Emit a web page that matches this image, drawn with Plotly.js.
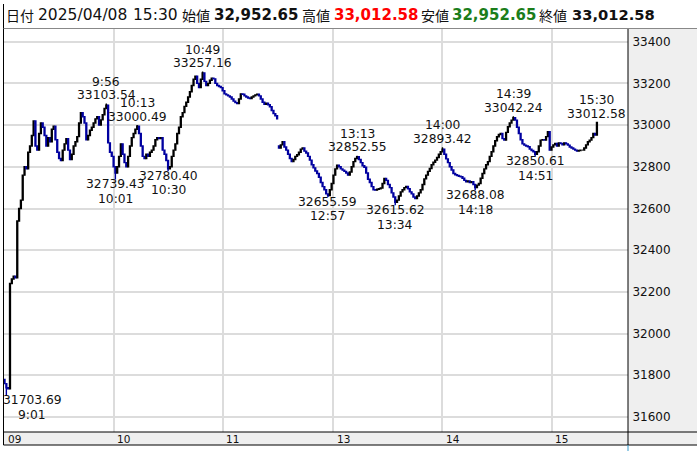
<!DOCTYPE html>
<html><head><meta charset="utf-8">
<script src="https://cdn.plot.ly/plotly-3.0.1.min.js"></script>
<style>html,body{margin:0;padding:0;background:#fff;}#chart{width:697px;height:451px;}</style>
</head><body><div id="chart"></div>
<script>
// ---- data ----
const firstOpen = 31780;
const afternoonOpen = 32900;
const morningClose = [
31760,31740,31735,32240,32262,32275,32268,32540,32600,32640,
32760,32800,32790,32870,32900,32950,33020,32900,32880,32960,
33010,32990,32950,32900,32940,32920,32980,32995,32930,32870,
32840,32830,32880,32910,32935,32880,32835,32860,32900,32920,
32945,33010,33060,33040,33010,32930,32950,32975,32990,33010,
33030,33040,33000,33025,33050,33080,33095,32915,32870,32850,
32800,32770,32800,32850,32910,32860,32820,32800,32850,32900,
32940,32960,32980,32995,32960,32900,32850,32840,32860,32850,
32870,32880,32900,32930,32940,32935,32940,32880,32860,32830,
32790,32800,32850,32880,32910,32960,32990,33040,33060,33090,
33110,33135,33160,33190,33220,33235,33200,33180,33220,33250,
33210,33190,33200,33215,33225,33222,33200,33190,33185,33180,
33165,33150,33145,33140,33135,33125,33115,33108,33104,33125,
33150,33148,33140,33135,33130,33128,33135,33140,33145,33148,
33140,33125,33110,33100,33105,33098,33088,33070,33055,33045,
33030];
const afternoonClose = [
32890,32905,32920,32895,32880,32860,32840,32825,32835,32850,
32858,32870,32885,32890,32875,32866,32850,32832,32810,32795,
32780,32768,32750,32725,32705,32690,32670,32662,32690,32720,
32760,32790,32808,32800,32790,32784,32778,32770,32760,32775,
32800,32825,32840,32848,32835,32820,32805,32798,32770,32740,
32725,32705,32690,32688,32692,32695,32698,32720,32744,32735,
32715,32700,32675,32655,32630,32640,32660,32680,32690,32700,
32706,32695,32680,32670,32655,32648,32660,32675,32690,32715,
32742,32760,32778,32792,32810,32822,32832,32845,32860,32872,
32885,32860,32838,32820,32800,32785,32768,32762,32758,32755,
32752,32745,32735,32728,32732,32725,32728,32715,32700,32712,
32720,32745,32768,32790,32810,32825,32850,32872,32900,32925,
32944,32955,32960,32935,32928,32965,32992,33010,33024,33035,
33024,32990,32960,32930,32910,32904,32900,32896,32885,32878,
32872,32860,32872,32900,32928,32930,32928,32945,32968,32880,
32895,32905,32912,32900,32915,32912,32905,32915,32910,32904,
32895,32890,32885,32880,32876,32878,32880,32880,32890,32905,
32920,32928,32940,32960,32952.65,33012.58];
const markTimes  = ['9:01','9:56','10:01','10:13','10:30','10:49','12:57','13:13','13:34','14:00','14:18','14:39','14:51','15:30'];
const markPrices = [31703.69,33103.54,32739.43,33000.49,32780.40,33257.16,32655.59,32852.55,32615.62,32893.42,32688.08,33042.24,32850.61,33012.58];
const markSide   = ['low','high','low','high','low','high','low','high','low','high','low','high','low','high'];
const hourTimes  = ['9:00','10:00','11:00','13:00','14:00','15:00'];
const hourLabels = ['09','10','11','13','14','15'];
const yTicks = [31600,31800,32000,32200,32400,32600,32800,33000,33200,33400];
const header = {date:'2025/04/08', time:'15:30', open:'32,952.65', high:'33,012.58', low:'32,952.65', close:'33,012.58'};

// ---- bar times (session minutes) ----
const times = [];
for (let m = 9*60; m <= 11*60+30; m++) times.push(Math.floor(m/60)+':'+String(m%60).padStart(2,'0'));
for (let m = 12*60+30; m <= 15*60+24; m++) times.push(Math.floor(m/60)+':'+String(m%60).padStart(2,'0'));
times.push('15:30');

const close = morningClose.concat(afternoonClose);
const open = close.map((c,i)=> i===0 ? firstOpen : (i===morningClose.length ? afternoonOpen : close[i-1]));
const high = close.map((c,i)=>Math.max(c,open[i]));
const low  = close.map((c,i)=>Math.min(c,open[i]));
markTimes.forEach((t,k)=>{const i=times.indexOf(t); if(markSide[k]==='high') high[i]=Math.max(high[i],markPrices[k]); else low[i]=Math.min(low[i],markPrices[k]);});
const xs = close.map((c,i)=>i);

// ---- layout helpers (pixel -> paper) ----
const L=4, R=628, T=29, B=432;
const pxX = p => (p-L)/(R-L);
const pxY = p => (B-p)/(B-T);
const numFont = 'DejaVu Sans, Verdana, sans-serif';
const jpFont = 'Noto Sans CJK JP, sans-serif';

const annotations = [];
markTimes.forEach((t,k)=>{
  const i = times.indexOf(t);
  const hi = markSide[k]==='high';
  const first = (t==='9:01');
  const base = {x:i, y:markPrices[k], xref:'x', yref:'y', showarrow:false, yanchor:'middle', borderpad:0,
    xanchor: first?'left':'center', font:{family:numFont,size:12.3,color:'#111'}};
  annotations.push(Object.assign({}, base, {text:markPrices[k].toFixed(2), yshift: hi?8.5:-5, xshift: first?-4:0}));
  annotations.push(Object.assign({}, base, {text:t, yshift: hi?22:-19.5, xshift: first?11:0}));
});
hourTimes.forEach((t,k)=>{
  annotations.push({x:times.indexOf(t), xref:'x', y:pxY(439), yref:'paper', text:hourLabels[k], showarrow:false,
    xanchor:'left', yanchor:'middle', xshift:1.5, font:{family:numFont,size:10.5,color:'#111'}});
});
const hy = pxY(15);
const hdr = [
  ['日付',3.5,jpFont,14,'#111',400],
  [header.date,36,numFont,15.5,'#111',400],
  [header.time,131,numFont,15.5,'#111',400],
  ['始値',180,jpFont,14,'#111',400],
  [header.open,212,numFont,15,'#111',700],
  ['高値',300,jpFont,14,'#111',400],
  [header.high,332,numFont,15,'#ff0000',700],
  ['安値',419,jpFont,14,'#111',400],
  [header.low,450,numFont,15,'#1b7d1b',700],
  ['終値',537,jpFont,14,'#111',400],
  [header.close,570,numFont,14.7,'#111',700]
];
hdr.forEach(h=>annotations.push({x:pxX(h[1]), y:hy, xref:'paper', yref:'paper', text:h[0], showarrow:false,
  xanchor:'left', yanchor:'middle', font:{family:h[2], size:h[3], color:h[4], weight:h[5]}}));

const shapes = [
  {type:'rect', xref:'paper', yref:'paper', x0:1, x1:pxX(697), y0:pxY(445), y1:1, fillcolor:'#efefef', line:{width:0}, layer:'below'},
  {type:'rect', xref:'paper', yref:'paper', x0:pxX(3), x1:1, y0:pxY(445), y1:0, fillcolor:'#efefef', line:{width:0}, layer:'below'},
  {type:'line', xref:'paper', yref:'paper', x0:pxX(3.5), x1:pxX(3.5), y0:pxY(445), y1:pxY(4), line:{color:'#000',width:1}},
  {type:'line', xref:'paper', yref:'paper', x0:1, x1:1, y0:pxY(445), y1:pxY(28), line:{color:'#000',width:1}},
  {type:'line', xref:'paper', yref:'paper', x0:pxX(3.5), x1:pxX(697), y0:0, y1:0, line:{color:'#000',width:1}},
  {type:'line', xref:'paper', yref:'paper', x0:pxX(3.5), x1:pxX(697), y0:pxY(445), y1:pxY(445), line:{color:'#000',width:1}},
  {type:'line', xref:'paper', yref:'paper', x0:pxX(3.5), x1:pxX(697), y0:pxY(28.5), y1:pxY(28.5), line:{color:'#888',width:1}},
  {type:'line', xref:'paper', yref:'paper', x0:1, x1:1, y0:pxY(445), y1:pxY(451), line:{color:'#3399cc',width:1}}
];

const trace = {type:'candlestick', x:xs, open:open, high:high, low:low, close:close,
  increasing:{line:{color:'#000000',width:1.4}, fillcolor:'#000000'},
  decreasing:{line:{color:'#0000a0',width:1.4}, fillcolor:'#0000a0'},
  whiskerwidth:0, hoverinfo:'skip'};

const layout = {
  width:697, height:451, margin:{l:L, r:697-R, t:T, b:451-B},
  paper_bgcolor:'#ffffff', plot_bgcolor:'#ffffff', showlegend:false,
  xaxis:{range:[-0.3,343.1], tickvals:hourTimes.map(t=>times.indexOf(t)), showticklabels:false, ticks:'',
    showgrid:true, gridcolor:'#dcdcdc', gridwidth:2, zeroline:false, rangeslider:{visible:false}, fixedrange:true},
  yaxis:{side:'right', range:[31528,33461], tickvals:yTicks, ticktext:yTicks.map(String), ticks:'outside', ticklen:1, tickcolor:'rgba(0,0,0,0)',
    showgrid:true, gridcolor:'#dcdcdc', gridwidth:2, zeroline:false, tickfont:{family:numFont,size:12,color:'#111'}, fixedrange:true},
  annotations:annotations, shapes:shapes
};
Plotly.newPlot('chart',[trace],layout,{displayModeBar:false,staticPlot:true});
</script></body></html>
